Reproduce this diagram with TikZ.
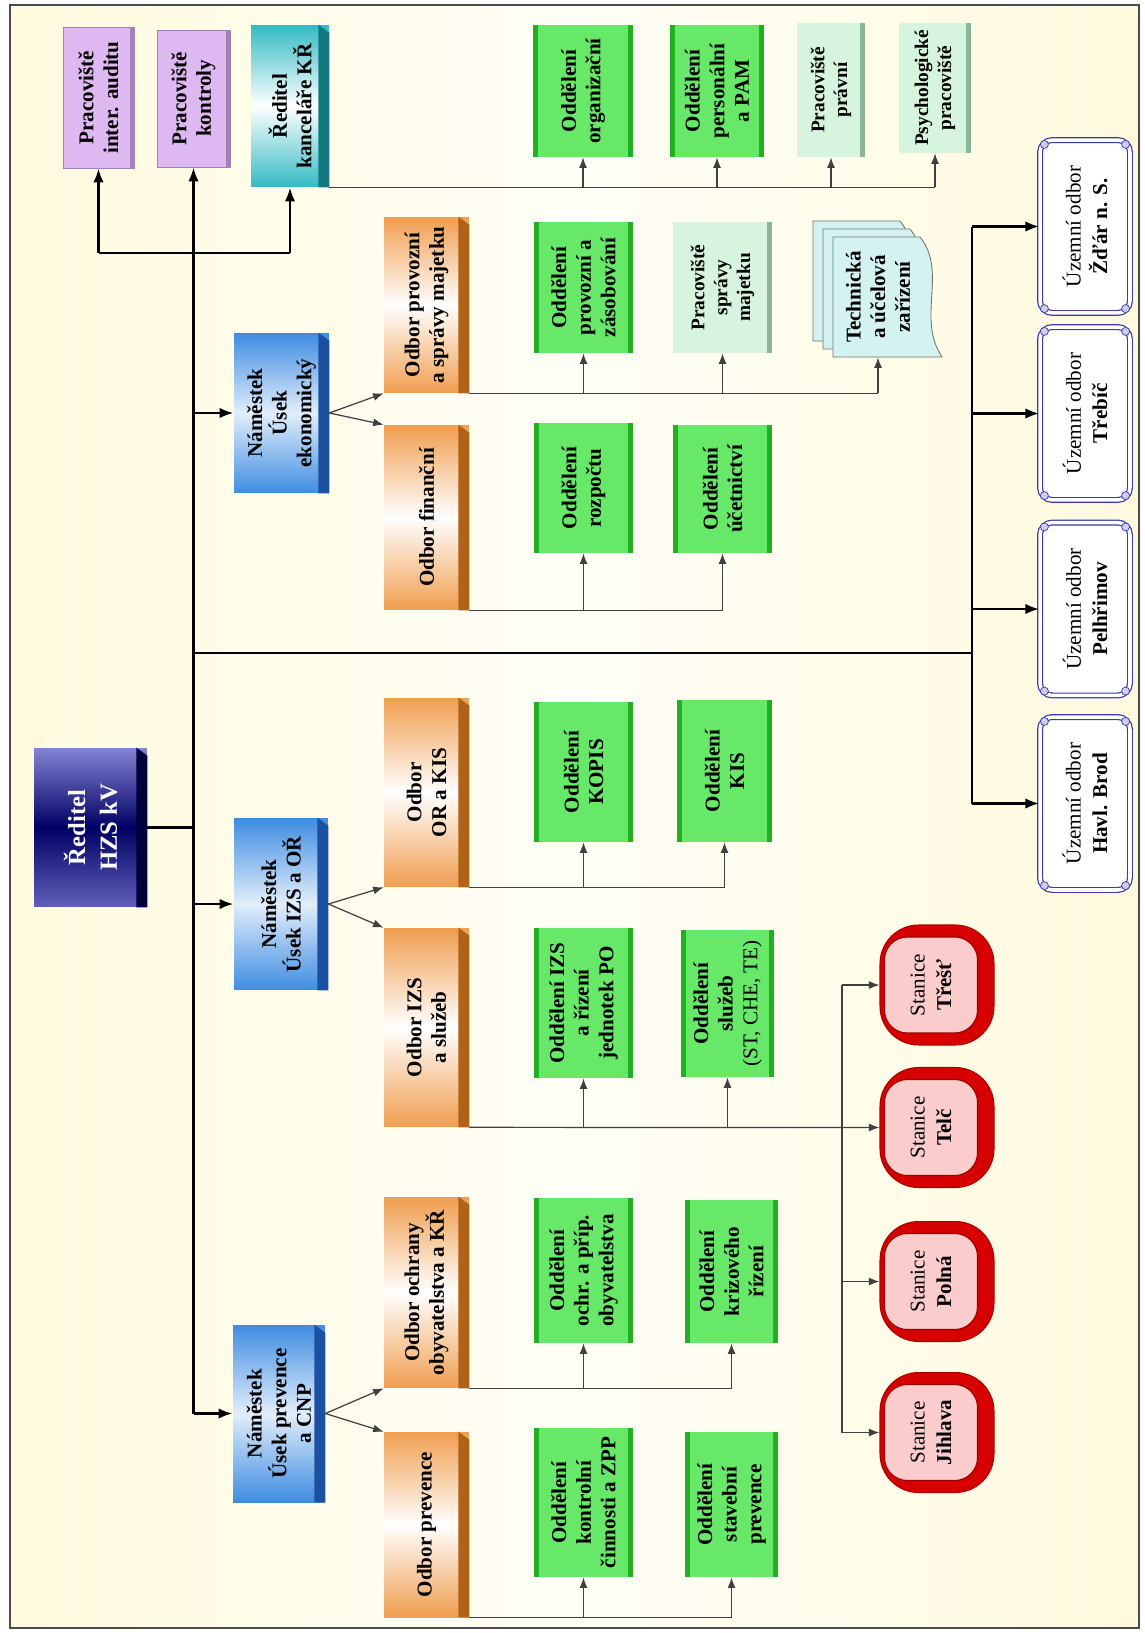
\documentclass[tikz,border=0pt]{standalone}
\usepackage{fontspec}
\setmainfont{Liberation Serif}
\usetikzlibrary{arrows.meta,calc}

\definecolor{bgcream}{RGB}{255,250,222}
\definecolor{bgpale}{RGB}{255,254,246}
\definecolor{lilac}{RGB}{222,184,240}
\definecolor{lilacside}{RGB}{160,130,180}
\definecolor{tealc}{RGB}{52,186,196}
\definecolor{tealside}{RGB}{20,120,130}
\definecolor{bluec}{RGB}{62,140,226}
\definecolor{blueside}{RGB}{28,80,160}
\definecolor{navytop}{RGB}{132,132,212}
\definecolor{navymid}{RGB}{0,0,100}
\definecolor{navybot}{RGB}{96,96,186}
\definecolor{navyside}{RGB}{0,0,60}
\definecolor{orangec}{RGB}{240,158,80}
\definecolor{orangeside}{RGB}{176,98,24}
\definecolor{greenc}{RGB}{104,232,104}
\definecolor{greenside}{RGB}{34,176,34}
\definecolor{mintc}{RGB}{214,244,222}
\definecolor{mintside}{RGB}{140,182,152}
\definecolor{docc}{RGB}{212,242,240}
\definecolor{uzblue}{RGB}{58,58,172}
\definecolor{stanpink}{RGB}{250,204,204}
\definecolor{stanred}{RGB}{214,0,0}

\tikzset{
	orgbox/.style={rectangle, rotate=90, align=center, inner sep=2pt,
		font=\bfseries\fontsize{12}{14}\selectfont},
	lilacbox/.style={orgbox, fill=lilac, draw=lilacside, line width=0.4pt},
	tealbox/.style={orgbox, top color=tealc, bottom color=tealc, middle color=white},
	bluebox/.style={orgbox, top color=bluec, bottom color=bluec, middle color=white!85!bluec},
	navybox/.style={orgbox, top color=navytop, bottom color=navybot, middle color=navymid,
		text=white, font=\bfseries\fontsize{14}{18}\selectfont},
	orangebox/.style={orgbox, top color=orangec, bottom color=orangec, middle color=white,
		minimum height=1.7cm},
	greenbox/.style={orgbox, fill=greenc, minimum height=1.98cm},
	mintbox/.style={orgbox, fill=mintc, font=\bfseries\fontsize{11}{13}\selectfont},
	docpage/.style={fill=docc, draw=black!55, line width=0.5pt},
	doctext/.style={orgbox, minimum width=2.4cm, minimum height=2.24cm},
	uzbox/.style={orgbox, font=\fontsize{12}{15}\selectfont, fill=white, draw=uzblue,
		double=white, double distance=2pt, line width=0.7pt, rounded corners=7pt,
		minimum width=3.46cm, minimum height=1.8cm},
	stanouter/.style={orgbox, fill=stanred, draw=stanred!80!black, line width=0.6pt,
		rounded corners=22pt, minimum width=2.4cm, minimum height=2.28cm},
	stanface/.style={orgbox, font=\fontsize{12}{15}\selectfont, fill=stanpink, draw=stanred!70!black,
		line width=0.6pt, rounded corners=13pt, minimum width=1.92cm, minimum height=1.86cm},
	mainline/.style={line width=1.6pt},
	subline/.style={line width=0.7pt, black!75},
	bigarrow/.style={-{Latex[length=8pt,width=6pt]}},
	arrowto/.style={-{Latex[length=6pt,width=4.5pt]}},
}

\begin{document}
\begin{tikzpicture}[x=0.02cm, y=-0.02cm]
	\useasboundingbox (0,0) rectangle (1145,1633);
	\draw[black!70, line width=1.2pt, left color=bgcream, right color=bgcream, middle color=bgpale]
		(10,5) rectangle (1139,1628);

	% top row
	\node[lilacbox, minimum width=2.82cm, minimum height=1.42cm] (auditu) at (98.5,97.5) {Pracoviště\\inter. auditu};
	\node[lilacbox, minimum width=2.74cm, minimum height=1.46cm] (kontroly) at (193.5,98.5) {Pracoviště\\kontroly};
	\node[tealbox, minimum width=3.24cm, minimum height=1.56cm] (kancelar) at (290,106) {Ředitel\\kanceláře KŘ};
	\node[greenbox, minimum width=2.64cm] (organizacni) at (583,91) {Oddělení\\organizační};
	\node[greenbox, minimum width=2.64cm, minimum height=1.88cm] (personalni) at (717,91) {Oddělení\\personální\\a PAM};
	\node[mintbox, minimum width=2.68cm, minimum height=1.36cm] (pravni) at (831,90) {Pracoviště\\právní};
	\node[mintbox, minimum width=2.6cm, minimum height=1.44cm] (psycho) at (935,88) {Psychologické\\pracoviště};

	% director and deputies
	\node[navybox, minimum width=3.18cm, minimum height=2.26cm] (reditel) at (90.5,827.5) {Ředitel\\HZS kV};
	\node[bluebox, minimum width=3.2cm, minimum height=1.9cm] (namEko) at (281.5,413) {Náměstek\\Úsek\\ekonomický};
	\node[bluebox, minimum width=3.44cm, minimum height=1.88cm] (namIzs) at (281,904) {Náměstek\\Úsek IZS a OŘ};
	\node[bluebox, minimum width=3.54cm, minimum height=1.84cm] (namPrev) at (279,1413.5) {Náměstek\\Úsek prevence\\a CNP};

	% odbory
	\node[orangebox, minimum width=3.52cm] (odbProvozni) at (426.5,305) {Odbor provozní\\a správy majetku};
	\node[orangebox, minimum width=3.7cm] (odbFinancni) at (426.5,517.5) {Odbor finanční};
	\node[orangebox, minimum width=3.78cm] (odbOrKis) at (426.5,792.5) {Odbor\\OR a KIS};
	\node[orangebox, minimum width=3.98cm] (odbIzs) at (426.5,1027.5) {Odbor IZS\\a služeb};
	\node[orangebox, minimum width=3.82cm] (odbOchrany) at (426.5,1292.5) {Odbor ochrany\\obyvatelstva a KŘ};
	\node[orangebox, minimum width=3.7cm] (odbPrevence) at (426.5,1524.5) {Odbor prevence};

	% oddeleni
	\node[greenbox, minimum width=2.62cm] (oddProvozni) at (583.5,287.5) {Oddělení\\provozní a\\zásobování};
	\node[mintbox, minimum width=2.62cm, minimum height=1.98cm] (spravy) at (722.5,287.5) {Pracoviště\\správy\\majetku};
	\node[greenbox, minimum width=2.6cm] (rozpoctu) at (583.5,488) {Oddělení\\rozpočtu};
	\node[greenbox, minimum width=2.56cm] (ucetnictvi) at (722.5,489) {Oddělení\\účetnictví};
	\node[greenbox, minimum width=2.8cm] (kopis) at (583.5,772) {Oddělení\\KOPIS};
	\node[greenbox, minimum width=2.84cm, minimum height=1.9cm] (kis) at (724.5,771) {Oddělení\\KIS};
	\node[greenbox, minimum width=3cm] (oddIzs) at (583.5,1003) {Oddělení IZS\\a řízení\\jednotek PO};
	\node[greenbox, minimum width=2.94cm, minimum height=1.86cm] (sluzeb) at (727.5,1003.5) {Oddělení\\služeb\\{\mdseries (ST, CHE, TE)}};
	\node[greenbox, minimum width=2.9cm] (ochrany) at (583.5,1270.5) {Oddělení\\ochr. a příp.\\obyvatelstva};
	\node[greenbox, minimum width=2.86cm, minimum height=1.86cm] (krizoveho) at (731.5,1271.5) {Oddělení\\krizového\\řízení};
	\node[greenbox, minimum width=2.98cm] (kontrolni) at (583.5,1502.5) {Oddělení\\kontrolní\\činnosti a ZPP};
	\node[greenbox, minimum width=2.9cm, minimum height=1.86cm] (stavebni) at (731.5,1504.5) {Oddělení\\stavební\\prevence};

	% technicka a ucelova zarizeni
	\foreach \d in {20,10,0}
		\filldraw[docpage, shift={(-\d,-0.8*\d)}] (833,237) -- (920,237)
			.. controls (948,272) and (916,318) .. (942,357) -- (833,357) -- cycle;
	\node[doctext] (technicka) at (878,297) {Technická\\a účelová\\zařízení};

	% uzemni odbory
	\foreach \n/\y/\place in {zdar/226.5/Žďár n. S., trebic/413.5/Třebíč, pelhrimov/609/Pelhřimov, havlbrod/803.5/Havl. Brod}
		\node[uzbox] (\n) at (1085,\y) {Územní odbor\\\textbf{\place}};
	\foreach \n in {zdar, trebic, pelhrimov, havlbrod}
		\foreach \c/\dx/\dy in {north west/5/-5, north east/5/5, south west/-5/-5, south east/-5/5}
			\filldraw[uzblue, fill=uzblue!25, line width=0.4pt] ($(\n.\c)+(\dx,\dy)$) circle[radius=4];

	% stanice
	\foreach \n/\y/\place in {trest/985/Třešť, telc/1127.5/Telč, polna/1281.5/Polná, jihlava/1432.5/Jihlava}
		{
			\node[stanouter] (\n) at (937,\y) {};
			\node[stanface] (\n-face) at (931,\y) {Stanice\\\textbf{\place}};
		}

	% side faces
	\foreach \n/\c in {kancelar/tealside, reditel/navyside, namEko/blueside, namIzs/blueside, namPrev/blueside,
			odbProvozni/orangeside, odbFinancni/orangeside, odbOrKis/orangeside, odbIzs/orangeside,
			odbOchrany/orangeside, odbPrevence/orangeside}
		\fill[\c] (\n.south west) -- ($(\n.south east)+(0,8)$) -- ($(\n.south east)+(-11,0)$)
			-- ($(\n.south west)+(-11,0)$) -- cycle;
	\foreach \n in {organizacni, personalni, oddProvozni, rozpoctu, ucetnictvi, kopis, kis,
			oddIzs, sluzeb, ochrany, krizoveho, kontrolni, stavebni}
		{
			\fill[greenside] (\n.north west) rectangle ($(\n.north east)+(5,0)$);
			\fill[greenside] (\n.south west) rectangle ($(\n.south east)+(-5,0)$);
		}
	\foreach \n in {pravni, psycho, spravy}
		\fill[mintside] (\n.south west) rectangle ($(\n.south east)+(-5,0)$);
	\foreach \n in {auditu, kontroly}
		\fill[lilacside] (\n.south west) rectangle ($(\n.south east)+(-4,0)$);

	% main lines
	\draw[mainline] (reditel.south) -- (reditel.south -| kontroly.west);
	\coordinate (trunkfoot) at (namPrev.north -| kontroly.west);
	\draw[mainline, bigarrow] (trunkfoot) -- (kontroly.west);
	\draw[mainline, bigarrow] (trunkfoot) -- (namPrev.north);
	\foreach \n in {namEko, namIzs}
		\draw[mainline, bigarrow] (\n.north -| kontroly.west) -- (\n.north);
	\coordinate (toparm) at (0,253);
	\draw[mainline] (auditu.west |- toparm) -- (kancelar.west |- toparm);
	\foreach \n in {auditu, kancelar}
		\draw[mainline, bigarrow] (\n.west |- toparm) -- (\n.west);
	\coordinate (ubus) at (972,653);
	\draw[mainline] (ubus -| kontroly.west) -- (ubus);
	\draw[mainline] (zdar.north -| ubus) -- (havlbrod.north -| ubus);
	\foreach \n in {zdar, trebic, pelhrimov, havlbrod}
		\draw[mainline, bigarrow] (\n.north -| ubus) -- (\n.north);

	% deputies to odbory
	\foreach \nam/\a/\b in {namEko/odbProvozni/odbFinancni, namIzs/odbOrKis/odbIzs, namPrev/odbOchrany/odbPrevence}
		{
			\draw[subline, arrowto] (\nam.south) -- (\a.north west);
			\draw[subline, arrowto] (\nam.south) -- (\b.north east);
		}

	% odbory to oddeleni
	\foreach \src/\dsts in {kancelar/{organizacni,personalni,pravni,psycho},
			odbProvozni/{oddProvozni,spravy,technicka}, odbFinancni/{rozpoctu,ucetnictvi},
			odbOrKis/{kopis,kis}, odbIzs/{oddIzs,sluzeb}, odbOchrany/{ochrany,krizoveho},
			odbPrevence/{kontrolni,stavebni}}
		\foreach \d in \dsts
			{
				\draw[subline] (\src.south west) -- (\src.south west -| \d.west);
				\draw[subline, arrowto] (\src.south west -| \d.west) -- (\d.west);
			}

	% stanice
	\draw[subline, arrowto] (odbIzs.south west) -- (telc.north);
	\coordinate (stanbus) at (842,0);
	\draw[subline] (trest.north -| stanbus) -- (jihlava.north -| stanbus);
	\foreach \n in {trest, polna, jihlava}
		\draw[subline, arrowto] (\n.north -| stanbus) -- (\n.north);
\end{tikzpicture}
\end{document}
